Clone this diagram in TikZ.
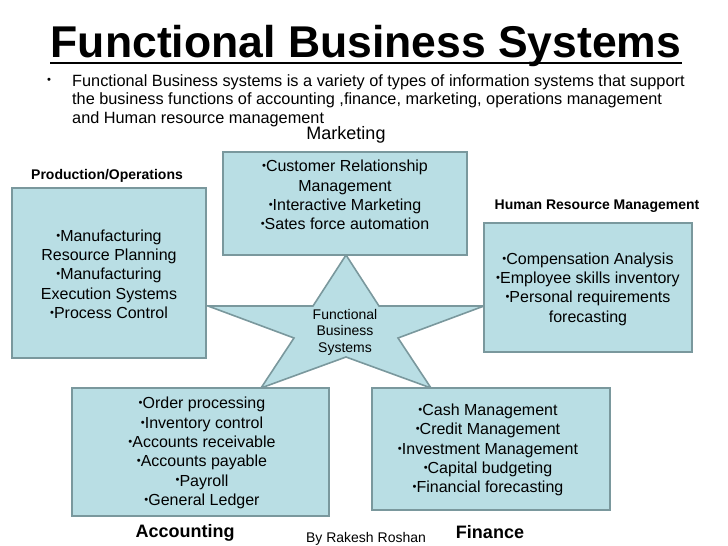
\documentclass[tikz,border=0pt]{standalone}
\usepackage{fontspec}
\setmainfont{Liberation Sans}
\usepackage{graphicx}
\definecolor{boxfill}{RGB}{185,222,228}
\definecolor{boxline}{RGB}{122,152,157}
\newcommand{\bul}{\raisebox{.25ex}{\scalebox{.7}{\textbullet}}}

\begin{document}
\begin{tikzpicture}[x=1pt,y=-1pt,inner sep=0pt,
  panel/.style={draw=boxline,fill=boxfill,line width=1.6pt},
  items/.style={align=center,font=\fontsize{16}{19.3}\selectfont},
  head/.style={font=\fontsize{14}{16}\selectfont\bfseries},
  bighead/.style={font=\fontsize{18}{20}\selectfont\bfseries}]
\useasboundingbox (0,0) rectangle (728,546);

\node[font=\fontsize{44.5}{48}\selectfont\bfseries,anchor=base] (title) at (366,57) {Functional Business Systems};
\draw[line width=2.4pt] ([yshift=-6pt]title.base west) -- ([yshift=-6pt]title.base east);

\node[font=\fontsize{16}{18.5}\selectfont] (dot) at (49,82) {\bul};
\node[anchor=north west,align=left,font=\fontsize{16.3}{18.5}\selectfont] (intro) at (72,74)
  {Functional Business systems is a variety of types of information systems that support\\
   the business functions of accounting ,finance, marketing, operations management\\
   and Human resource management};

\draw[panel,line join=miter] (346,255) -- (379,306) -- (484,306) -- (398,338) -- (431,388)
  -- (346,357) -- (261,388) -- (294,338) -- (208,306) -- (313,306) -- cycle;

\node[panel,minimum width=194pt,minimum height=170pt] (prod) at (109,273) {};
\node[panel,minimum width=244pt,minimum height=103pt] (mkt) at (345,203.5) {};
\node[panel,minimum width=208pt,minimum height=129pt] (hr) at (588,287.5) {};
\node[panel,minimum width=257pt,minimum height=128pt] (acc) at (200.5,452) {};
\node[panel,minimum width=238pt,minimum height=122pt] (fin) at (491,449) {};

\node[items] (prodlist) at (109,274) {\bul Manufacturing\\Resource Planning\\\bul Manufacturing\\Execution Systems\\\bul Process Control};
\node[items] (mktlist) at (345,195) {\bul Customer Relationship\\Management\\\bul Interactive Marketing\\\bul Sates force automation};
\node[items] (hrlist) at (588,289) {\bul Compensation Analysis\\\bul Employee skills inventory\\\bul Personal requirements\\forecasting};
\node[items] (acclist) at (202,453) {\bul Order processing\\\bul Inventory control\\\bul Accounts receivable\\\bul Accounts payable\\\bul Payroll\\\bul General Ledger};
\node[items] (finlist) at (488,450) {\bul Cash Management\\\bul Credit Management\\\bul Investment Management\\\bul Capital budgeting\\\bul Financial forecasting};

\node[align=center,font=\fontsize{14}{16.5}\selectfont] (core) at (345,332) {Functional\\Business\\Systems};

\node[font=\fontsize{18}{20}\selectfont] (mkthead) at (346,135) {Marketing};
\node[head] (prodhead) at (107,176) {Production/Operations};
\node[head] (hrhead) at (597,206) {Human Resource Management};
\node[bighead] (acchead) at (185,533) {Accounting};
\node[bighead] (finhead) at (490,532) {Finance};
\node[font=\fontsize{14}{16}\selectfont] (author) at (366,539) {By Rakesh Roshan};
\end{tikzpicture}
\end{document}
